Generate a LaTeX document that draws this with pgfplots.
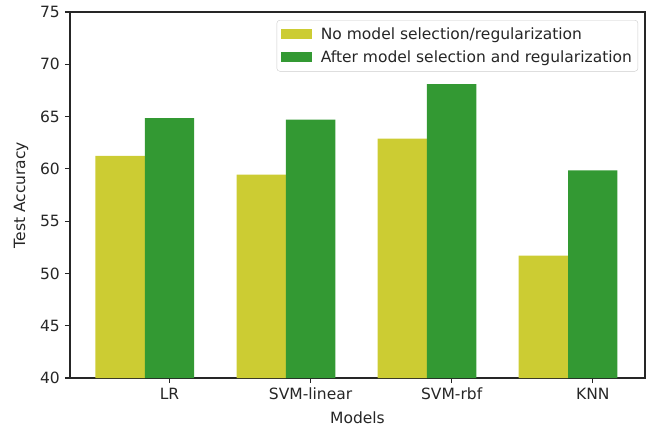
\documentclass[border=0pt]{standalone}
\usepackage{fontspec}
\setmainfont{DejaVu Sans}
\usepackage{pgfplots}
\pgfplotsset{compat=1.18}
\definecolor{cy}{HTML}{CCCC33}
\definecolor{cg}{HTML}{339933}
\begin{document}
\fontsize{15}{18}\selectfont
\begin{tikzpicture}
\path[use as bounding box] (-70pt,-50pt) rectangle (577pt,378pt);
\begin{axis}[
  scale only axis,
  width=575pt, height=366pt,
  xmin=-0.355, xmax=3.72,
  ymin=40, ymax=75,
  ytick={40,45,...,75},
  xtick={0.35,1.35,2.35,3.35},
  xticklabels={LR,SVM-linear,SVM-rbf,KNN},
  tick align=outside,
  tick pos=left,
  major tick length=5pt,
  axis line style={line width=1.1pt, black!85},
  every tick/.style={line width=1.1pt, black!85},
  tick label style={font=\fontsize{15.5}{18}\selectfont, text=black!85},
  /pgf/number format/assume math mode=true,
  xlabel={Models},
  ylabel={Test Accuracy},
  label style={font=\fontsize{15.5}{18}\selectfont, text=black!85},
  xlabel style={at={(axis description cs:0.5,-0.109)}, anchor=center},
  ylabel style={at={(axis description cs:-0.085,0.5)}, anchor=center},
  legend style={at={(axis description cs:0.988,0.978)}, anchor=north east,
    draw=black!20, rounded corners=3pt, fill=white,
    font=\fontsize{15.5}{18}\selectfont, text=black!85,
    inner xsep=4pt, inner ysep=5pt, row sep=5pt, column sep=7pt},
  legend cell align=left,
  legend image code/.code={\fill[#1, sharp corners] (0pt,-5pt) rectangle (31pt,5pt);},
]
\addplot[ybar, bar width=0.35, bar shift=0pt, fill=cy, draw=none] coordinates {
  (0,61.25) (1,59.45) (2,62.9) (3,51.7)};
\addlegendentry{No model selection/regularization}
\addplot[ybar, bar width=0.35, bar shift=0pt, fill=cg, draw=none] coordinates {
  (0.35,64.85) (1.35,64.7) (2.35,68.1) (3.35,59.85)};
\addlegendentry{After model selection and regularization}
\end{axis}
\end{tikzpicture}
\end{document}
